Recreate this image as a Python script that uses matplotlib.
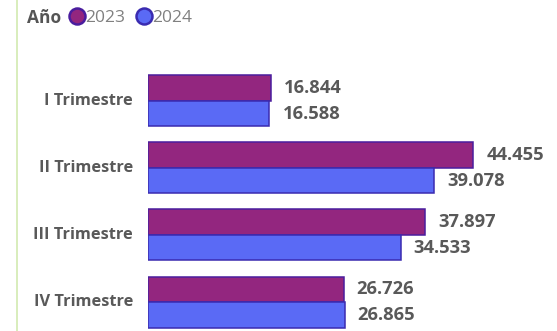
import matplotlib
matplotlib.use("Agg")
import matplotlib.pyplot as plt
from matplotlib.lines import Line2D
import numpy as np

categories = ["I Trimestre", "II Trimestre", "III Trimestre", "IV Trimestre"]
years = ["2023", "2024"]
values_2023 = [16.844, 44.455, 37.897, 26.726]
values_2024 = [16.588, 39.078, 34.533, 26.865]
labels_2023 = ["16.844", "44.455", "37.897", "26.726"]
labels_2024 = ["16.588", "39.078", "34.533", "26.865"]

col_2023 = "#93267F"
col_2024 = "#5A6AF5"
edge_2023 = "#4A1D9E"
edge_2024 = "#3A2BB0"
text_col = "#595959"

W, H = 557, 331
fig = plt.figure(figsize=(W / 100, H / 100), dpi=100)
fig.patch.set_facecolor("white")

left_px = 148
ax = fig.add_axes([left_px / W, 0, (W - left_px) / W, 1])
ax.set_xlim(0, (W - left_px) / 7.32)
ax.set_ylim(230 / 67, -101 / 67)
ax.axis("off")

y = np.arange(len(categories))
h = 25.5 / 67
ax.barh(y - h / 2, values_2023, height=h, color=col_2023, edgecolor=edge_2023, linewidth=1.1)
ax.barh(y + h / 2, values_2024, height=h, color=col_2024, edgecolor=edge_2024, linewidth=1.1)

for yi, v, lab in zip(y, values_2023, labels_2023):
    ax.annotate(lab, (v, yi - h / 2), xytext=(13, 0), textcoords="offset pixels",
                ha="left", va="center", fontsize=13.2, fontweight="bold",
                family="Open Sans", color=text_col)
for yi, v, lab in zip(y, values_2024, labels_2024):
    ax.annotate(lab, (v, yi + h / 2), xytext=(13, 0), textcoords="offset pixels",
                ha="left", va="center", fontsize=13.2, fontweight="bold",
                family="Open Sans", color=text_col)

for yi, cat in zip(y, categories):
    ax.annotate(cat, (0, yi), xytext=(-15, 0), textcoords="offset pixels",
                ha="right", va="center", fontsize=11.8, fontweight="bold",
                family="Open Sans", color=text_col, annotation_clip=False)

# left green line
fig.add_artist(Line2D([16.5 / W, 16.5 / W], [0, 1], color="#D2EAB0", linewidth=1.2))

# legend
fig.text(27 / W, 1 - 18 / H, "Año", ha="left", va="center", fontsize=12.5,
         fontweight="bold", family="Open Sans", color="#555555")
handles = [Line2D([], [], marker="o", linestyle="none", markersize=11.5,
                  markerfacecolor=col_2023, markeredgecolor=edge_2023, markeredgewidth=1.8),
           Line2D([], [], marker="o", linestyle="none", markersize=11.5,
                  markerfacecolor=col_2024, markeredgecolor=edge_2024, markeredgewidth=1.8)]
leg = fig.legend(handles, years, loc="center left", bbox_to_anchor=(69 / W, 1 - 18 / H),
                 ncol=2, frameon=False, handlelength=0.9, handletextpad=0.05,
                 columnspacing=0.6, borderpad=0, borderaxespad=0,
                 prop={"family": "Open Sans", "size": 12.5})
for t in leg.get_texts():
    t.set_color("#808080")

fig.savefig("out.png", dpi=100, facecolor="white")
